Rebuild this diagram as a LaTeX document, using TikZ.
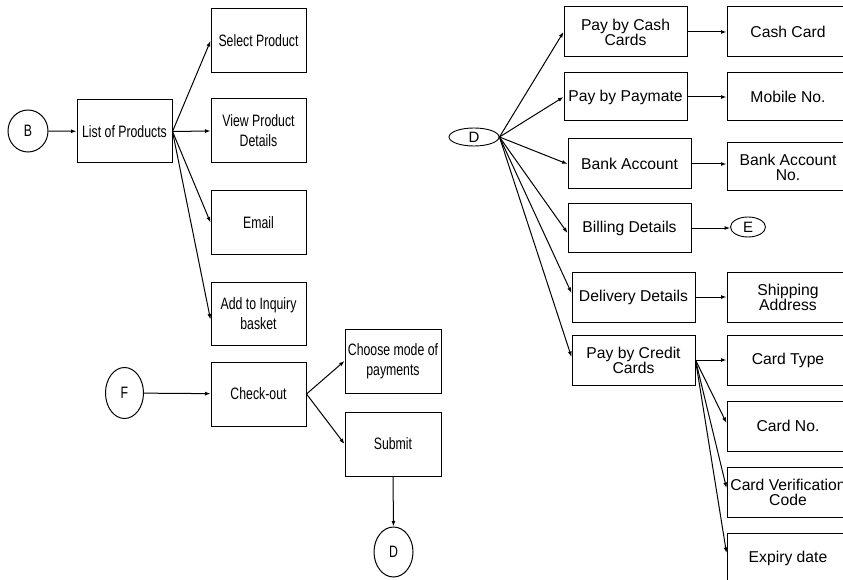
\documentclass[tikz,border=0pt]{standalone}
\usepackage{fontspec}
\setmainfont{Liberation Sans}
\newfontfamily\narrowfont[FakeStretch=0.745]{Liberation Sans}
\usetikzlibrary{arrows.meta,shapes.geometric}
\begin{document}
\begin{tikzpicture}[x=1pt,y=-1pt,
  lbox/.style={draw,line width=1pt,rectangle,minimum width=95pt,minimum height=64pt,inner sep=1pt,align=center,font=\narrowfont\fontsize{16.5}{20}\selectfont},
  rbox/.style={draw,line width=1pt,rectangle,minimum width=123pt,minimum height=50pt,inner sep=1pt,align=center,font=\fontsize{15.7}{15}\selectfont},
  lcirc/.style={draw,line width=1pt,ellipse,inner sep=0pt,font=\narrowfont\fontsize{16.5}{17}\selectfont},
  rell/.style={draw,line width=0.9pt,ellipse,inner sep=0pt,font=\fontsize{15}{15}\selectfont},
  conn/.style={line width=1pt,-{Latex[length=5.5pt,width=4pt]}}]
\clip (0,0) rectangle (843,580);
\fill[white] (0,0) rectangle (843,580);
% left part
\node[lcirc,minimum width=40pt,minimum height=42pt] (B) at (28,131) {B};
\node[lbox,minimum height=63pt] (LP) at (124.5,131.5) {List of Products};
\node[lbox] (SP) at (258.5,41) {Select Product};
\node[lbox] (VPD) at (258.5,131) {View Product\\Details};
\node[lbox,minimum height=63pt] (EM) at (258.5,222.5) {Email};
\node[lbox,minimum height=63pt] (AIB) at (258.5,313.5) {Add to Inquiry\\basket};
\node[lcirc,minimum width=38pt,minimum height=51pt] (F) at (124.5,393) {F};
\node[lbox] (CO) at (258.5,394) {Check-out};
\node[lbox,minimum width=96pt] (CM) at (393,361) {Choose mode of\\payments};
\node[lbox,minimum width=96pt] (SU) at (393,444) {Submit};
\node[lcirc,minimum width=39pt,minimum height=50pt] (D1) at (393.5,552) {D};
\draw[conn] (B) -- (LP);
\draw[conn] (LP.east) -- (SP.west);
\draw[conn] (LP.east) -- (VPD.west);
\draw[conn] (LP.east) -- (EM.west);
\draw[conn] (LP.east) -- ([yshift=-6pt]AIB.west);
\draw[conn] (F) -- (CO);
\draw[conn] (CO.east) -- (CM.west);
\draw[conn] (CO.east) -- (SU.west);
\draw[conn] (SU.south) -- (D1.north);
% right part
\node[rell,minimum width=50pt,minimum height=18pt] (D2) at (474,137) {D};
\node[rbox] (PCC) at (625.5,32) {Pay by Cash\\Cards};
\node[rbox,minimum width=122pt] (CC) at (788,32) {Cash Card};
\node[rbox,minimum height=48pt] (PPM) at (625.5,97) {Pay by Paymate};
\node[rbox,minimum width=122pt,minimum height=48pt] (MN) at (788,97) {Mobile No.};
\node[rbox] (BA) at (629.5,164) {Bank Account};
\node[rbox,minimum width=122pt,minimum height=48pt] (BAN) at (788,167) {Bank Account\\No.};
\node[rbox,minimum height=48pt] (BD) at (629.5,228) {Billing Details};
\node[rell,minimum width=35pt,minimum height=20pt] (E) at (748,227) {E};
\node[rbox] (DD) at (633.5,297) {Delivery Details};
\node[rbox,minimum width=122pt] (SA) at (788,297) {Shipping\\Address};
\node[rbox] (PCr) at (633.5,360) {Pay by Credit\\Cards};
\node[rbox,minimum width=122pt] (CT) at (788,360) {Card Type};
\node[rbox,minimum width=122pt] (CN) at (788,426) {Card No.};
\node[rbox,minimum width=122pt] (CVC) at (788,492) {Card Verification\\Code};
\node[rbox,minimum width=122pt] (ED) at (788,558) {Expiry date};
\draw[conn] (D2.east) -- (PCC.west);
\draw[conn] (D2.east) -- (PPM.west);
\draw[conn] (D2.east) -- (BA.west);
\draw[conn] (D2.east) -- ([yshift=-5pt]BD.west);
\draw[conn] (D2.east) -- ([yshift=4pt]DD.west);
\draw[conn] (D2.east) -- ([yshift=3pt]PCr.west);
\draw[conn] (PCC.east) -- (PCC.east -| CC.west);
\draw[conn] (PPM.east) -- (PPM.east -| MN.west);
\draw[conn] (BA.east) -- (BA.east -| BAN.west);
\draw[conn] (BD.east) -- (BD.east -| E.west);
\draw[conn] (DD.east) -- (DD.east -| SA.west);
\draw[conn] (PCr.east) -- (CT.west);
\draw[conn] (PCr.east) -- ([yshift=3pt]CN.west);
\draw[conn] (PCr.east) -- ([yshift=4pt]CVC.west);
\draw[conn] (PCr.east) -- ([yshift=5pt]ED.west);
\end{tikzpicture}
\end{document}
